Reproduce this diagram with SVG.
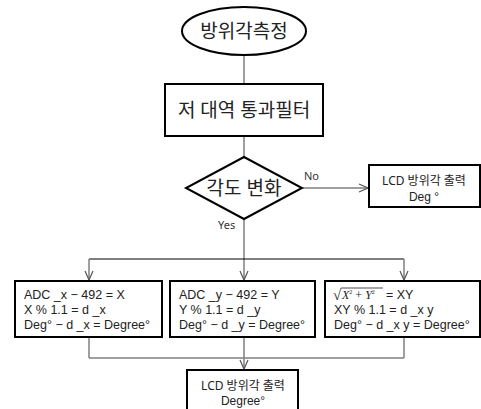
<svg xmlns="http://www.w3.org/2000/svg" width="481" height="409" viewBox="0 0 481 409">
<defs>
<style>
.n{fill:#fff;stroke:#000;stroke-width:2}
.c{fill:none;stroke:#7f7f7f;stroke-width:1.5}
.h{fill:none;stroke:#000;stroke-width:1}
.t{font-family:"Noto Sans","Noto Sans CJK KR",sans-serif;fill:#222}
.l{font-family:"Liberation Sans",Arial,sans-serif;fill:#222}
.big{font-size:19px;text-anchor:middle}
.sm{font-size:12px}
.f{font-size:12.5px}
.mid{text-anchor:middle}
.lbl{font-size:11px;fill:#333}
</style>
<marker id="a" markerWidth="12" markerHeight="12" refX="10" refY="5" orient="auto" markerUnits="userSpaceOnUse" viewBox="0 0 12 10">
<path d="M1,1 L10,5 L1,9" fill="none" stroke="#555" stroke-width="1.2"/>
</marker>
</defs>
<g id="connectors">
<line class="c" x1="244" y1="55" x2="244" y2="84"/>
<line class="c" x1="244" y1="136" x2="244" y2="157"/>
<line class="c" x1="302" y1="188" x2="368" y2="188" marker-end="url(#a)"/>
<line class="c" x1="244" y1="219" x2="244" y2="280" marker-end="url(#a)"/>
<line class="h" x1="89" y1="259" x2="404" y2="259"/>
<line class="c" x1="89" y1="259" x2="89" y2="280" marker-end="url(#a)"/>
<line class="c" x1="404" y1="259" x2="404" y2="280" marker-end="url(#a)"/>
<line class="c" x1="89" y1="337" x2="89" y2="358"/>
<line class="c" x1="404" y1="337" x2="404" y2="358"/>
<line class="c" x1="89" y1="358" x2="404" y2="358"/>
<line class="c" x1="244" y1="337" x2="244" y2="369" marker-end="url(#a)"/>
<text class="t lbl" x="304" y="180">No</text>
<text class="t lbl" x="218" y="229">Yes</text>
</g>
<g id="start">
<ellipse class="n" cx="244" cy="31" rx="62" ry="24"/>
<text class="t big" x="244" y="38">방위각측정</text>
</g>
<g id="filter">
<rect class="n" x="165" y="84" width="158" height="52"/>
<text class="t big" x="244" y="117">저 대역 통과필터</text>
</g>
<g id="decision">
<polygon class="n" points="244,157 302,188 244,219 186,188"/>
<text class="t big" x="244" y="195">각도 변화</text>
</g>
<g id="out1">
<rect class="n" x="369" y="165" width="111" height="42"/>
<text class="t sm mid" x="424" y="185">LCD 방위각 출력</text>
<text class="l sm mid" x="424" y="201">Deg °</text>
</g>
<g id="boxX">
<rect class="n" x="15" y="281" width="147" height="56"/>
<text class="l f" x="24" y="299">ADC _x − 492 = X</text>
<text class="l f" x="24" y="314">X % 1.1 = d _x</text>
<text class="l f" x="24" y="329">Deg° − d _x = Degree°</text>
</g>
<g id="boxY">
<rect class="n" x="170" y="281" width="145" height="56"/>
<text class="l f" x="179" y="299">ADC _y − 492 = Y</text>
<text class="l f" x="179" y="314">Y % 1.1 = d _y</text>
<text class="l f" x="179" y="329">Deg° − d _y = Degree°</text>
</g>
<g id="boxXY">
<rect class="n" x="325" y="281" width="155" height="56"/>
<text x="333" y="300" style="font-family:'Liberation Serif',serif;font-size:15px;fill:#222">√</text>
<line x1="341" y1="288" x2="383" y2="288" stroke="#222" stroke-width="0.8"/>
<text x="342" y="299" style="font-family:'Liberation Serif',serif;font-size:12px;fill:#222"><tspan font-style="italic">X</tspan><tspan font-size="6" dy="-5">2</tspan><tspan dy="5"> + </tspan><tspan font-style="italic">Y</tspan><tspan font-size="6" dy="-5">2</tspan></text>
<text class="l f" x="386" y="299">= XY</text>
<text class="l f" x="334" y="314">XY % 1.1 = d _x y</text>
<text class="l f" x="334" y="329">Deg° − d _x y = Degree°</text>
</g>
<g id="out2">
<rect class="n" x="187" y="370" width="111" height="42"/>
<text class="t sm mid" x="243" y="390">LCD 방위각 출력</text>
<text class="l sm mid" x="243" y="405">Degree°</text>
</g>
</svg>
